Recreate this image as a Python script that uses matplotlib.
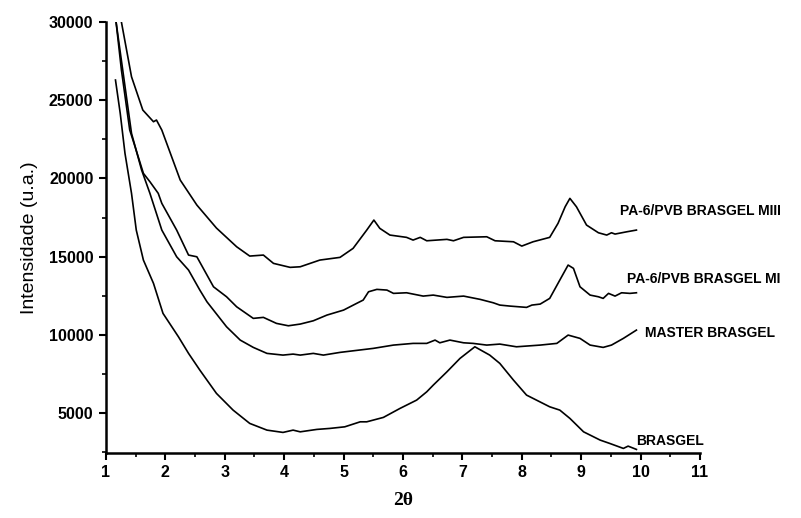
import numpy as np
import matplotlib
matplotlib.use('Agg')
import matplotlib.pyplot as plt
from matplotlib.ticker import MultipleLocator

plt.rcParams['font.family'] = ['Liberation Sans', 'DejaVu Sans']

# 2theta / intensity
x_m3 = [1.26, 1.43, 1.62, 1.80, 1.85, 1.94, 2.25, 2.53, 2.86, 3.20, 3.42, 3.65, 3.82, 4.10, 4.27,
        4.60, 4.94, 5.16, 5.39, 5.51, 5.61, 5.78, 6.06, 6.17, 6.29, 6.40, 6.74, 6.85, 7.02, 7.41,
        7.55, 7.86, 8.00, 8.19, 8.47, 8.61, 8.73, 8.81, 8.92, 9.09, 9.29, 9.43, 9.51, 9.57, 9.77, 9.93]
y_m3 = [30000, 26500, 24373, 23625, 23734, 23094, 19897, 18299, 16828, 15633, 15038, 15102, 14571, 14316, 14354,
        14782, 14955, 15530, 16700, 17340, 16809, 16381, 16234, 16061, 16234, 16016, 16106, 16016, 16234, 16272,
        16016, 15952, 15677, 15952, 16234, 17129, 18190, 18727, 18190, 17020, 16528, 16381, 16528, 16445, 16592, 16700]

x_m1 = [1.17, 1.26, 1.40, 1.49, 1.63, 1.74, 1.88, 1.94, 2.19, 2.39, 2.53, 2.81, 3.03, 3.20, 3.48,
        3.65, 3.87, 4.07, 4.27, 4.49, 4.72, 5.00, 5.22, 5.33, 5.42, 5.56, 5.73, 5.84, 6.06, 6.34,
        6.51, 6.74, 7.02, 7.30, 7.52, 7.63, 7.80, 8.08, 8.17, 8.31, 8.47, 8.64, 8.78, 8.87, 8.98,
        9.15, 9.29, 9.37, 9.46, 9.57, 9.68, 9.82, 9.93]
y_m1 = [30000, 26931, 23094, 22027, 20326, 19789, 19047, 18408, 16700, 15102, 14993, 13075, 12436, 11796, 11055,
        11119, 10735, 10582, 10691, 10901, 11266, 11585, 12014, 12225, 12756, 12909, 12864, 12653, 12692, 12480,
        12544, 12397, 12480, 12269, 12052, 11905, 11841, 11758, 11905, 11969, 12333, 13503, 14463, 14252, 13075,
        12544, 12436, 12333, 12653, 12480, 12692, 12653, 12692]

x_master = [1.17, 1.43, 1.60, 1.74, 1.94, 2.19, 2.39, 2.58, 2.70, 3.03, 3.26, 3.48, 3.71, 3.98, 4.15,
            4.27, 4.49, 4.66, 4.94, 5.50, 5.84, 6.17, 6.40, 6.54, 6.62, 6.79, 7.02, 7.18, 7.41, 7.63,
            7.91, 8.31, 8.59, 8.78, 8.98, 9.15, 9.37, 9.51, 9.71, 9.93]
y_master = [30000, 22883, 20537, 19047, 16700, 14993, 14143, 12864, 12116, 10518, 9667, 9200, 8817, 8708, 8772,
            8708, 8817, 8708, 8881, 9137, 9348, 9456, 9456, 9667, 9494, 9667, 9494, 9456, 9348, 9412,
            9239, 9348, 9456, 9987, 9776, 9348, 9200, 9348, 9776, 10306]

x_bras = [1.16, 1.24, 1.32, 1.43, 1.51, 1.63, 1.80, 1.96, 2.22, 2.39, 2.58, 2.86, 3.14, 3.42, 3.71,
          3.98, 4.15, 4.27, 4.55, 4.77, 5.02, 5.28, 5.39, 5.67, 5.95, 6.23, 6.40, 6.51, 6.74, 6.96,
          7.21, 7.46, 7.63, 7.86, 8.08, 8.47, 8.64, 8.81, 9.04, 9.32, 9.48, 9.71, 9.79, 9.93]
y_bras = [26292, 24162, 21605, 19047, 16700, 14782, 13292, 11374, 9878, 8817, 7749, 6259, 5191, 4341, 3912,
          3765, 3912, 3803, 3957, 4021, 4123, 4443, 4443, 4724, 5300, 5831, 6361, 6790, 7640, 8497,
          9239, 8708, 8177, 7109, 6151, 5403, 5191, 4661, 3803, 3273, 3062, 2742, 2889, 2678]

labels = ['PA-6/PVB BRASGEL MIII', 'PA-6/PVB BRASGEL MI', 'MASTER BRASGEL', 'BRASGEL']
label_x = [9.65, 9.77, 10.07, 9.92]
label_y = [17915, 13567, 10114, 3210]

fig = plt.figure(figsize=(8.01, 5.18), dpi=100)
ax = fig.add_axes([0.1323, 0.1255, 0.7416, 0.832])

for xs, ys in [(x_m3, y_m3), (x_m1, y_m1), (x_master, y_master), (x_bras, y_bras)]:
    ax.plot(xs, ys, color='black', linewidth=1.2)

for lab, lx, ly in zip(labels, label_x, label_y):
    ax.text(lx, ly, lab, fontsize=10, fontweight='bold', ha='left', va='center', clip_on=False)

ax.set_xlim(1, 11)
ax.set_ylim(2450, 30000)
ax.xaxis.set_major_locator(MultipleLocator(1))
ax.xaxis.set_minor_locator(MultipleLocator(0.5))
ax.yaxis.set_minor_locator(MultipleLocator(2500))
ax.set_yticks([5000, 10000, 15000, 20000, 25000, 30000])

for s in ['top', 'right']:
    ax.spines[s].set_visible(False)
for s in ['left', 'bottom']:
    ax.spines[s].set_linewidth(1.8)

ax.tick_params(which='major', direction='out', length=5, width=1.5, labelsize=11.5, pad=4)
ax.tick_params(which='minor', direction='out', length=3, width=1.2)
for t in ax.get_xticklabels() + ax.get_yticklabels():
    t.set_fontweight('bold')

ax.set_ylabel('Intensidade (u.a.)', fontsize=14, labelpad=8)
ax.set_xlabel('2θ', fontsize=14, fontweight='bold', family=['Liberation Serif', 'DejaVu Serif'], labelpad=8)

fig.savefig('out.png', dpi=100)
